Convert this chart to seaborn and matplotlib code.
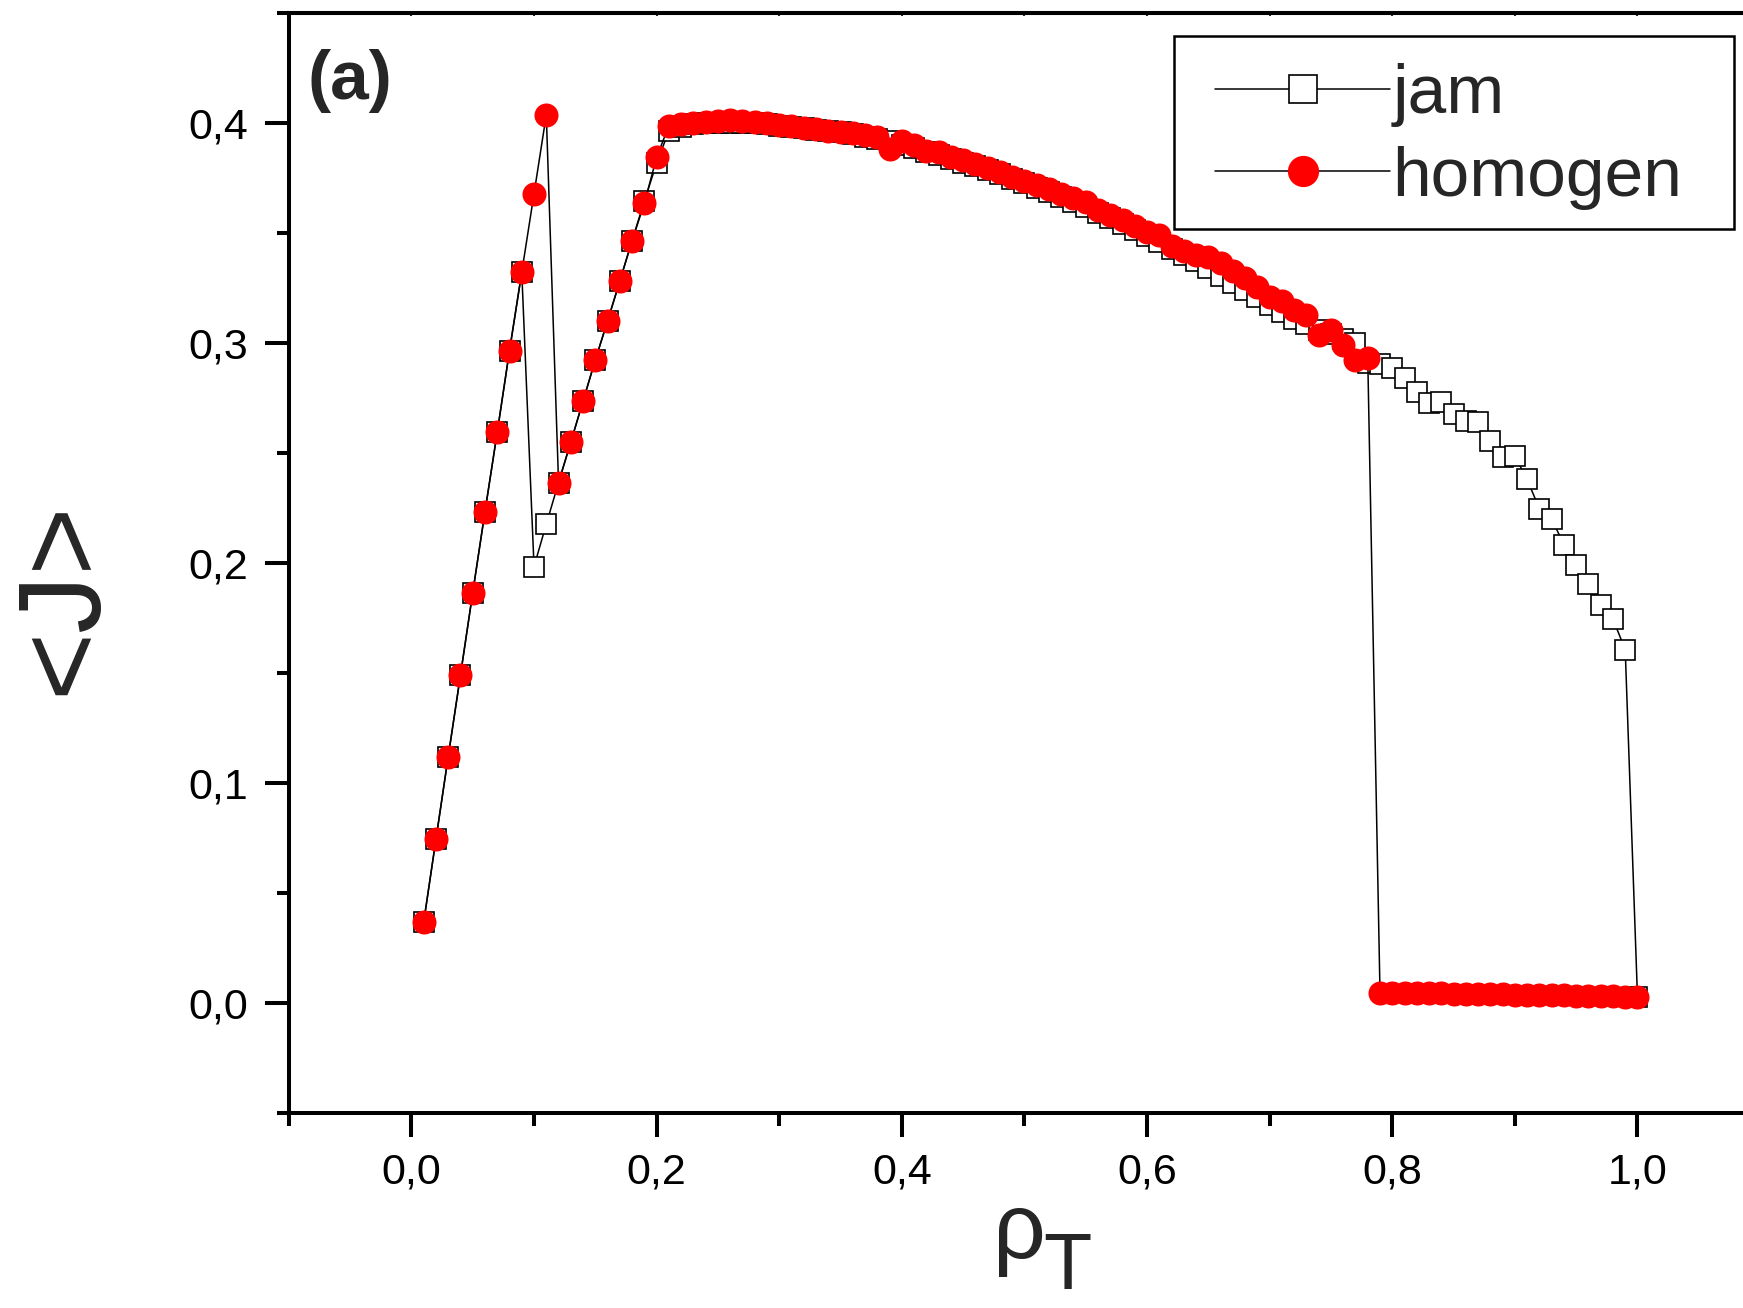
import numpy as np
import matplotlib
matplotlib.use("Agg")
import matplotlib.pyplot as plt
import seaborn as sns
from matplotlib.ticker import MultipleLocator, FuncFormatter
from matplotlib.patches import Rectangle

# density grid rho_T (0.01 ... 1.00)
rho = np.round(np.linspace(0.01, 1.00, 100), 2)

# <J> for the jam initial condition
jam = [0.0366, 0.0743, 0.1119, 0.1490, 0.1865, 0.2234, 0.2595, 0.2966, 0.3323, 0.1984,
       0.2177, 0.2366, 0.2550, 0.2737, 0.2924, 0.3101, 0.3283, 0.3467, 0.3647, 0.3819,
       0.3966, 0.3985, 0.3995, 0.4000, 0.4003, 0.4004, 0.4003, 0.4000, 0.3996, 0.3990,
       0.3984, 0.3977, 0.3972, 0.3966, 0.3962, 0.3952, 0.3940, 0.3930, 0.3918, 0.3902,
       0.3887, 0.3871, 0.3856, 0.3839, 0.3822, 0.3805, 0.3787, 0.3768, 0.3748, 0.3728,
       0.3707, 0.3686, 0.3664, 0.3641, 0.3618, 0.3594, 0.3569, 0.3543, 0.3516, 0.3488,
       0.3460, 0.3430, 0.3402, 0.3372, 0.3340, 0.3308, 0.3275, 0.3242, 0.3208, 0.3175,
       0.3142, 0.3112, 0.3086, 0.3062, 0.3042, 0.3020, 0.3000, 0.2910, 0.2905, 0.2887,
       0.2840, 0.2780, 0.2730, 0.2733, 0.2680, 0.2647, 0.2642, 0.2555, 0.2484, 0.2487,
       0.2380, 0.2247, 0.2200, 0.2084, 0.1990, 0.1905, 0.1810, 0.1745, 0.1606, 0.0025]

# <J> for the homogeneous initial condition
homogen = [0.0366, 0.0743, 0.1119, 0.1490, 0.1865, 0.2234, 0.2595, 0.2966, 0.3323, 0.3680,
           0.4039, 0.2366, 0.2550, 0.2737, 0.2924, 0.3101, 0.3283, 0.3467, 0.3637, 0.3846,
           0.3989, 0.3995, 0.4003, 0.4008, 0.4013, 0.4014, 0.4012, 0.4005, 0.4000, 0.3993,
           0.3988, 0.3980, 0.3973, 0.3966, 0.3962, 0.3955, 0.3948, 0.3938, 0.3885, 0.3920,
           0.3900, 0.3875, 0.3870, 0.3845, 0.3833, 0.3815, 0.3795, 0.3778, 0.3758, 0.3740,
           0.3720, 0.3700, 0.3680, 0.3662, 0.3644, 0.3606, 0.3585, 0.3561, 0.3531, 0.3505,
           0.3493, 0.3440, 0.3420, 0.3402, 0.3390, 0.3364, 0.3330, 0.3296, 0.3255, 0.3212,
           0.3190, 0.3152, 0.3129, 0.3038, 0.3060, 0.2993, 0.2924, 0.2932, 0.0045, 0.0044,
           0.0044, 0.0043, 0.0042, 0.0042, 0.0041, 0.0040, 0.0039, 0.0039, 0.0038, 0.0037,
           0.0036, 0.0035, 0.0034, 0.0033, 0.0032, 0.0031, 0.0030, 0.0029, 0.0027, 0.0025]

sns.set_style("ticks")
plt.rcParams['font.family'] = ['Liberation Sans', 'DejaVu Sans']

fig = plt.figure(figsize=(17.43, 13.08), dpi=100)
# right spine sits just outside the picture, as in the original
ax = fig.add_axes([0.1657, 0.1494, 0.8441, 0.8403])

sns.lineplot(x=rho, y=jam, ax=ax, color='black', lw=1.1, marker='s', markersize=15,
             markerfacecolor='white', markeredgecolor='black', markeredgewidth=1.2,
             label='jam', zorder=2)
sns.lineplot(x=rho, y=homogen, ax=ax, color='black', lw=1.1, marker='o', markersize=17.3,
             markerfacecolor='red', markeredgecolor='red', markeredgewidth=0,
             label='homogen', zorder=3)

ax.set_xlim(-0.1, 1.1)
ax.set_ylim(-0.05, 0.45)

comma = FuncFormatter(lambda v, p: f"{abs(v) if abs(v) < 1e-9 else v:.1f}".replace('.', ','))
ax.xaxis.set_major_locator(MultipleLocator(0.2))
ax.xaxis.set_minor_locator(MultipleLocator(0.1))
ax.yaxis.set_major_locator(MultipleLocator(0.1))
ax.yaxis.set_minor_locator(MultipleLocator(0.05))
ax.xaxis.set_major_formatter(comma)
ax.yaxis.set_major_formatter(comma)

for s in ax.spines.values():
    s.set_linewidth(2.9)
    s.set_color('black')
ax.tick_params(which='major', length=17, width=2.9, labelsize=31, pad=12, colors='black')
ax.tick_params(which='minor', length=9, width=2.9, colors='black')

top = ax.secondary_xaxis('top')
top.xaxis.set_major_locator(MultipleLocator(0.1))
top.tick_params(direction='in', length=2, width=1.5, labeltop=False)
top.spines['top'].set_linewidth(2.9)

# x label: rho with a large subscript T
fig.text(993 / 1743, 1 - 1258 / 1308, 'ρ', fontsize=67, ha='left', va='baseline')
fig.text(1043 / 1743, 1 - 1289 / 1308, 'T', fontsize=57, ha='left', va='baseline')

ax.set_ylabel('<J>', fontsize=84)
ax.yaxis.set_label_coords(-0.1155, 0.468)

ax.text(0.013, 0.968, '(a)', transform=ax.transAxes, fontsize=50,
        fontweight='bold', va='top', ha='left')

# legend box drawn separately so its padding matches the original
ax.add_patch(Rectangle((0.6017, 0.8039), 0.3806, 0.1756, transform=ax.transAxes,
                       facecolor='white', edgecolor='black', lw=1.8, zorder=4))
leg = ax.legend(loc='upper left', bbox_to_anchor=(0.6296, 0.955), borderaxespad=0,
                fontsize=50, markerscale=1.3, handlelength=2.52, handletextpad=0.03,
                borderpad=0, labelspacing=0.27, frameon=False)
leg.set_zorder(5)

fig.savefig('out.png', dpi=100)
